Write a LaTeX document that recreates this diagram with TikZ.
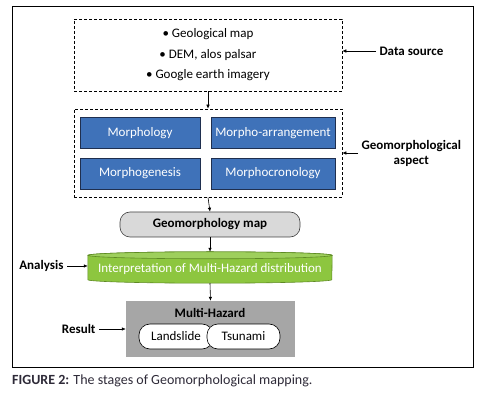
\documentclass[tikz,border=0pt]{standalone}
\usepackage{fontspec}
\setmainfont{Carlito}
\usetikzlibrary{arrows.meta}
\definecolor{aspectblue}{HTML}{3F72B9}
\definecolor{aspectline}{HTML}{1F2F4F}
\definecolor{interpgreen}{HTML}{8DC63F}
\definecolor{interpline}{HTML}{5E8A24}
\definecolor{mapgray}{HTML}{D9D9D9}
\definecolor{hazardgray}{HTML}{A6A6A6}
\definecolor{captext}{HTML}{2E2A38}
\begin{document}
\begin{tikzpicture}[x=1pt,y=1pt,
        every node/.style = {font=\fontsize{13}{15}\selectfont},
        dashbox/.style = {draw, dash pattern=on 3pt off 2pt, line width=0.6pt, minimum width=268pt},
        aspectbox/.style = {draw=aspectline, line width=0.7pt, fill=aspectblue, text=white, minimum height=31pt},
        sidelabel/.style = {font=\fontsize{13}{15}\selectfont\bfseries, align=center},
        pill/.style = {draw, line width=0.6pt, fill=white, rounded corners=11pt, minimum height=25pt},
        arr/.style = {-{Latex[length=4pt,width=3.5pt]}, line width=0.6pt}
    ]
    \useasboundingbox (0,0) rectangle (486,401);
    % outer frame and caption
    \draw[line width=1pt] (12,34) rectangle (473,394);
    \node[anchor=west, inner sep=0pt, font=\fontsize{14}{16}\selectfont, text=captext] (caption) at (12,20)
        {\textbf{FIGURE 2:} The stages of Geomorphological mapping.};

    % data source
    \node[dashbox, minimum height=72pt, align=center, font=\fontsize{13}{20.5}\selectfont] (datasrc) at (208,346)
        {\textbullet\ Geological map\\ \textbullet\ DEM, alos palsar\\ \textbullet\ Google earth imagery};
    \node[sidelabel, anchor=west] (dslabel) at (376,350) {Data source};

    % geomorphological aspect
    \node[dashbox, minimum height=88pt] (aspect) at (208,248) {};
    \node[aspectbox, minimum width=120pt] (morphology) at (140,268) {Morphology};
    \node[aspectbox, minimum width=124pt] (morphoarr) at (273,268) {Morpho-arrangement};
    \node[aspectbox, minimum width=120pt] (morphogen) at (140,227.5) {Morphogenesis};
    \node[aspectbox, minimum width=124pt] (morphocron) at (273,227.5) {Morphocronology};
    \node[sidelabel, anchor=west] (asplabel) at (358,248) {Geomorphological\\aspect};

    % geomorphology map
    \node[draw=black!75, line width=0.6pt, fill=mapgray, rounded corners=10pt,
        minimum width=180pt, minimum height=25pt, font=\fontsize{13}{15}\selectfont\bfseries] (geomap) at (210,176.5) {Geomorphology map};

    % interpretation (cylinder)
    \node[minimum width=244pt, minimum height=31pt, inner sep=0pt] (interp) at (210,133.5) {};
    \filldraw[fill=interpgreen, draw=interpline, line width=0.6pt]
        ([yshift=-3.5pt]interp.north west) -- ([yshift=3.5pt]interp.south west)
        arc[start angle=180, end angle=360, x radius=122pt, y radius=3.5pt]
        -- ([yshift=-3.5pt]interp.north east)
        arc[start angle=0, end angle=180, x radius=122pt, y radius=3.5pt] -- cycle;
    \filldraw[fill=interpgreen!85!white, draw=interpline, line width=0.6pt]
        ([yshift=-3.5pt]interp.north) ellipse[x radius=122pt, y radius=3.5pt];
    \node[text=white] at ([yshift=-2pt]interp.center) {Interpretation of Multi-Hazard distribution};
    \node[sidelabel, anchor=east] (anlabel) at (67,135) {Analysis};

    % multi-hazard result
    \node[fill=hazardgray, minimum width=169pt, minimum height=56pt] (hazard) at (210.5,72) {};
    \node[font=\fontsize{13}{15}\selectfont\bfseries] (hazardtitle) at (210,88) {Multi-Hazard};
    \node[pill, minimum width=74pt] (landslide) at (176,64.5) {Landslide};
    \node[pill, minimum width=73pt] (tsunami) at (243.5,64.5) {Tsunami};
    \node[sidelabel, anchor=east] (reslabel) at (99,72) {Result};

    % connectors
    \draw[arr] (datasrc.south) -- (aspect.north);
    \draw[arr] (aspect.south) -- (geomap.north);
    \draw[arr] (geomap.south) -- (interp.north);
    \draw[arr] (interp.south) -- (hazard.north);
    \draw[arr] (dslabel.west) -- (dslabel.west -| datasrc.east);
    \draw[arr] (asplabel.west) -- (asplabel.west -| aspect.east);
    \draw[arr] (anlabel.east) -- (anlabel.east -| interp.west);
    \draw[arr] (reslabel.east) -- (reslabel.east -| hazard.west);
\end{tikzpicture}
\end{document}
